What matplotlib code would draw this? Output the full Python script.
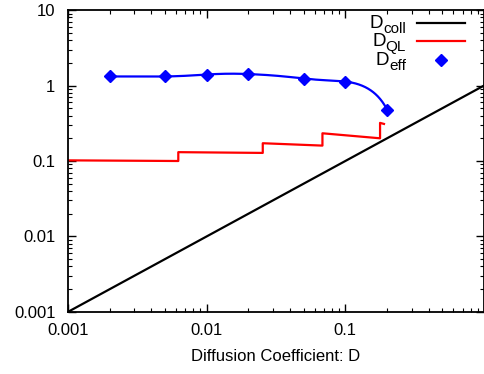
import numpy as np
import matplotlib
matplotlib.use("Agg")
import matplotlib.pyplot as plt
from matplotlib.ticker import LogLocator, NullFormatter, FixedFormatter, FixedLocator

plt.rcParams['font.family'] = ['Liberation Sans', 'DejaVu Sans']

# Effective diffusion coefficient samples
d_eff_x = [0.002, 0.005, 0.01, 0.02, 0.05, 0.1, 0.2]
d_eff_y = [1.32, 1.32, 1.40, 1.42, 1.24, 1.13, 0.48]

# Quasi-linear diffusion (piecewise, with jumps)
d_ql_x = [0.001, 0.00625, 0.00625, 0.0254, 0.0254, 0.0684, 0.0684, 0.178, 0.178, 0.19]
d_ql_y = [0.102, 0.100, 0.131, 0.128, 0.172, 0.160, 0.233, 0.200, 0.32, 0.31]

# Collisional diffusion D_coll = D
d_coll_x = [0.001, 1.0]
d_coll_y = [0.001, 1.0]

x_ticks = [0.001, 0.01, 0.1]
x_tick_labels = ['0.001', '0.01', '0.1']
y_ticks = [0.001, 0.01, 0.1, 1, 10]
y_tick_labels = ['0.001', '0.01', '0.1', '1', '10']

legend_subscripts = ['coll', 'QL', 'eff']


def natural_cspline(x, y, n=600):
    """Natural cubic spline through (x, y), evaluated on a fine grid."""
    x = np.asarray(x, float)
    y = np.asarray(y, float)
    k = len(x)
    h = np.diff(x)
    A = np.zeros((k, k))
    r = np.zeros(k)
    A[0, 0] = A[-1, -1] = 1.0
    for i in range(1, k - 1):
        A[i, i - 1] = h[i - 1]
        A[i, i] = 2 * (h[i - 1] + h[i])
        A[i, i + 1] = h[i]
        r[i] = 6 * ((y[i + 1] - y[i]) / h[i] - (y[i] - y[i - 1]) / h[i - 1])
    m = np.linalg.solve(A, r)
    xs = np.geomspace(x[0], x[-1], n)
    idx = np.clip(np.searchsorted(x, xs) - 1, 0, k - 2)
    x0, x1 = x[idx], x[idx + 1]
    hh = x1 - x0
    a = (x1 - xs) / hh
    b = (xs - x0) / hh
    ys = (a * y[idx] + b * y[idx + 1]
          + ((a ** 3 - a) * m[idx] + (b ** 3 - b) * m[idx + 1]) * hh ** 2 / 6)
    return xs, ys


fig = plt.figure(figsize=(4.85, 3.74), dpi=100)
ax = fig.add_axes([0.140, 0.166, 0.858, 0.807])

ax.plot(d_coll_x, d_coll_y, color='black', lw=1.6)
ax.plot(d_ql_x, d_ql_y, color='#ff0000', lw=1.6)

sx, sy = natural_cspline(d_eff_x, d_eff_y)
ax.plot(sx, sy, color='#0000ff', lw=1.6)
ax.plot(d_eff_x, d_eff_y, 'D', color='#0000ff', ms=6, ls='none')

ax.set_xscale('log')
ax.set_yscale('log')
ax.set_xlim(0.001, 1.0)
ax.set_ylim(0.001, 10)

ax.xaxis.set_major_locator(FixedLocator(x_ticks))
ax.xaxis.set_major_formatter(FixedFormatter(x_tick_labels))
ax.yaxis.set_major_locator(FixedLocator(y_ticks))
ax.yaxis.set_major_formatter(FixedFormatter(y_tick_labels))
ax.xaxis.set_minor_locator(LogLocator(base=10, subs=np.arange(2, 10)))
ax.yaxis.set_minor_locator(LogLocator(base=10, subs=np.arange(2, 10)))
ax.xaxis.set_minor_formatter(NullFormatter())
ax.yaxis.set_minor_formatter(NullFormatter())

ax.tick_params(which='both', direction='in', top=True, right=True,
               labelsize=12, colors='black')
ax.tick_params(axis='x', which='both', pad=8)
ax.tick_params(axis='y', which='both', pad=9)
ax.tick_params(which='major', length=6, width=1.0)
ax.tick_params(which='minor', length=3, width=0.8)
for s in ax.spines.values():
    s.set_linewidth(1.3)

ax.set_xlabel('Diffusion Coefficient: D', fontsize=12, labelpad=8)

# Key in gnuplot style: right-justified labels with the sample to their right
renderer = fig.canvas.get_renderer()
text_right = 0.8125
key_rows = [0.957, 0.897, 0.834]
sub_drop = 5.0 / (ax.get_position().height * fig.bbox.height)
ax_w_px = ax.get_position().width * fig.bbox.width
styles = [dict(color='black', lw=1.6), dict(color='#ff0000', lw=1.6), None]
for sub, yrow, st in zip(legend_subscripts, key_rows, styles):
    base = yrow - 0.017
    t_sub = ax.text(text_right, base - sub_drop, sub, transform=ax.transAxes,
                    ha='right', va='baseline', fontsize=11)
    w = t_sub.get_window_extent(renderer).width / ax_w_px
    ax.text(text_right - w, base, 'D', transform=ax.transAxes,
            ha='right', va='baseline', fontsize=13.5)
    if st is not None:
        ax.plot([0.839, 0.954], [yrow, yrow], transform=ax.transAxes,
                clip_on=False, **st)
    else:
        ax.plot([0.897], [yrow], 'D', color='#0000ff', ms=6,
                transform=ax.transAxes, clip_on=False)

fig.savefig('out.png', dpi=100)
